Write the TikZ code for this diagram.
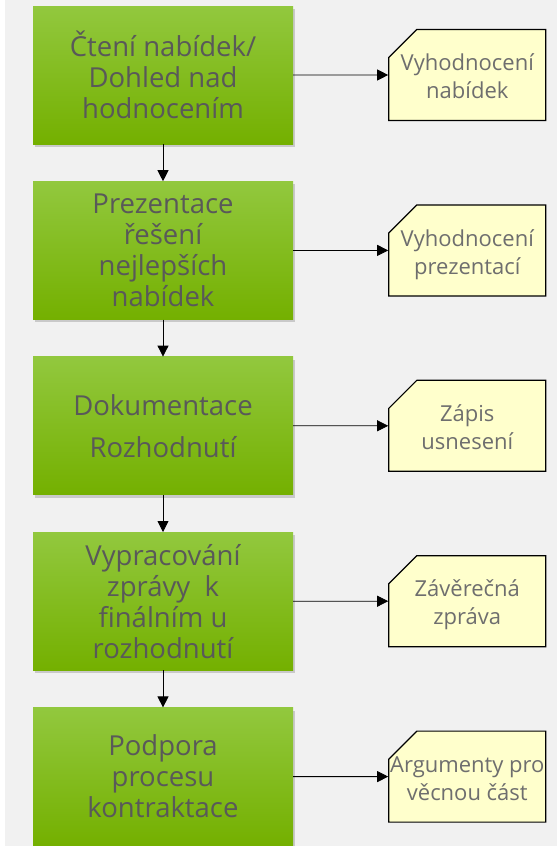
\documentclass[tikz,border=0pt]{standalone}
\usepackage{fontspec}
\setmainfont{Open Sans}
\usetikzlibrary{arrows.meta,positioning,shapes.misc,shadows}

\definecolor{bggray}{HTML}{F1F1F1}
\definecolor{greentop}{HTML}{92C83E}
\definecolor{greenmid}{HTML}{7ABD00}
\definecolor{greenbot}{HTML}{74B000}
\definecolor{docfill}{HTML}{FFFFCC}
\definecolor{txtgray}{HTML}{595959}
\definecolor{doctxt}{HTML}{6E6E6E}

% text of a document node, kept out of the shape's size
\newcommand{\doclines}[1]{\makebox[0pt]{\raisebox{-4pt}[\height][\depth]{\begin{tabular}{@{}c@{}}#1\end{tabular}}}}

\tikzset{
  stage/.style={rectangle, minimum width=260pt, minimum height=138pt, inner sep=0pt,
    top color=greentop, middle color=greenmid, bottom color=greenbot,
    drop shadow={opacity=0.35, shadow xshift=2pt, shadow yshift=-3pt},
    text=txtgray, font=\fontsize{27.5}{31}\selectfont, align=center},
  output/.style={chamfered rectangle, chamfered rectangle corners=north west,
    chamfered rectangle xsep=32pt, chamfered rectangle ysep=18pt,
    minimum width=157pt, minimum height=91pt, inner sep=0pt, draw=black, line width=1.2pt,
    fill=docfill, text=doctxt, font=\fontsize{22}{28}\selectfont},
  flow/.style={-{Triangle[length=11pt,width=11pt]}, line width=0.8pt}
}

\begin{document}
\begin{tikzpicture}[node distance=37pt]
  \useasboundingbox (0,0) rectangle (557pt,-846pt);
  \fill[white] (0,0) rectangle (557pt,-846pt);
  \fill[bggray] (5pt,0) rectangle (557pt,-846pt);

  \node[stage] (reading) at (163pt,-75pt) {Čtení nabídek/\\Dohled nad\\hodnocením};
  \node[stage] (presentation) [below=of reading] {Prezentace\\řešení\\nejlepších\\nabídek};
  \node[stage] (documentation) [below=of presentation] {Dokumentace\\[11pt]Rozhodnutí};
  \node[stage] (report) [below=of documentation] {Vypracování\\zprávy~ k\\finálním u\\rozhodnutí};
  \node[stage] (support) [below=of report] {Podpora\\procesu\\kontraktace};

  \node[output] (evaluation) [right=95pt of reading] {\doclines{Vyhodnocení\\nabídek}};
  \node[output] (pres eval) [right=95pt of presentation] {\doclines{Vyhodnocení\\prezentací}};
  \node[output] (minutes) [right=95pt of documentation] {\doclines{Zápis\\usnesení}};
  \node[output] (final) [right=95pt of report] {\doclines{Závěrečná\\zpráva}};
  \node[output] (arguments) [right=95pt of support] {\doclines{Argumenty pro\\věcnou část}};

  \draw[flow] (reading) -- (presentation);
  \draw[flow] (presentation) -- (documentation);
  \draw[flow] (documentation) -- (report);
  \draw[flow] (report) -- (support);

  \draw[flow] (reading) -- (evaluation);
  \draw[flow] (presentation) -- (pres eval);
  \draw[flow] (documentation) -- (minutes);
  \draw[flow] (report) -- (final);
  \draw[flow] (support) -- (arguments);
\end{tikzpicture}
\end{document}
